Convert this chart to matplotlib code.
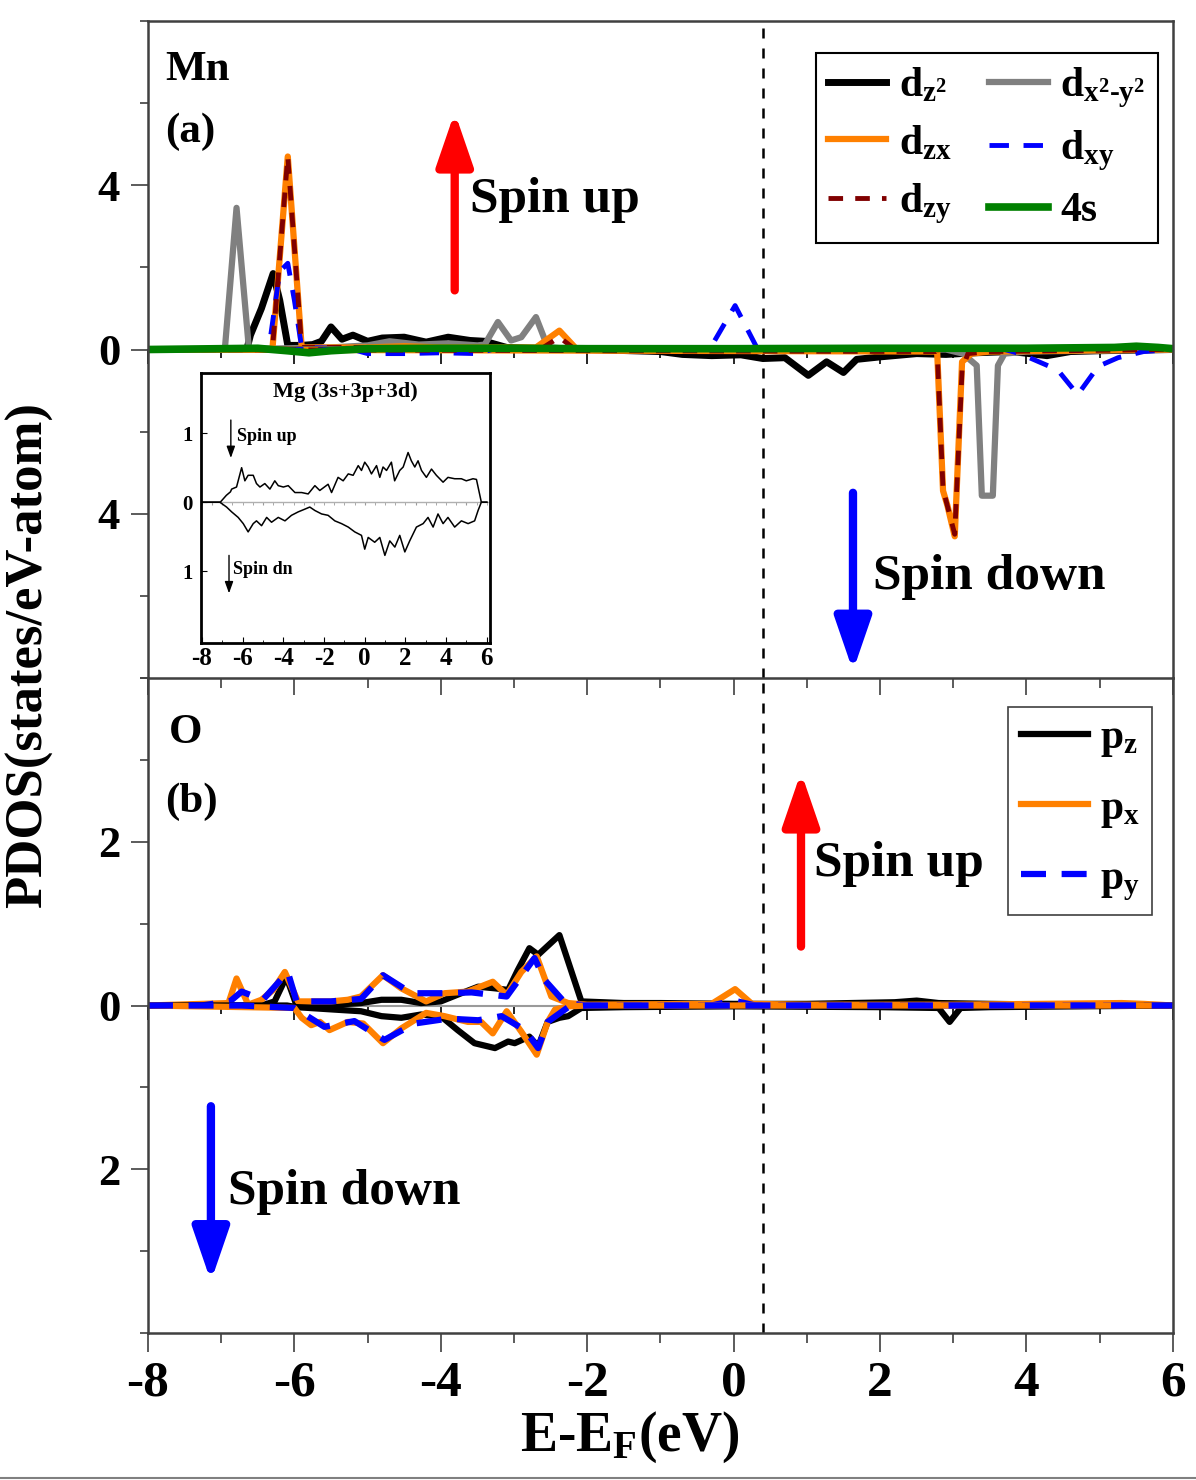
import numpy as np
import matplotlib
matplotlib.use('Agg')
import matplotlib.pyplot as plt
from matplotlib.ticker import FuncFormatter, MultipleLocator
from matplotlib.lines import Line2D

plt.rcParams['font.family'] = ['Liberation Serif', 'DejaVu Serif']
plt.rcParams['font.weight'] = 'bold'
plt.rcParams['axes.labelweight'] = 'bold'
plt.rcParams['axes.unicode_minus'] = False
plt.rcParams['mathtext.fontset'] = 'custom'
plt.rcParams['mathtext.rm'] = 'Liberation Serif:bold'
plt.rcParams['mathtext.it'] = 'Liberation Serif:bold'
plt.rcParams['mathtext.bf'] = 'Liberation Serif:bold'
plt.rcParams['mathtext.default'] = 'bf'

# ---- Mn d / 4s PDOS (spin down stored as positive magnitudes) ----
dz2_up_e = [-8, -6.65, -6.6, -6.45, -6.29, -6.2, -6.09, -5.9, -5.75, -5.63, -5.5, -5.35, -5.2,
            -5.0, -4.8, -4.5, -4.2, -3.9, -3.6, -3.4, -3.1, -2.8, -2.5, -2.0, 6]
dz2_up = [0, 0, 0.35, 1.0, 1.85, 1.2, 0.1, 0.1, 0.12, 0.2, 0.55, 0.25, 0.35,
          0.2, 0.28, 0.3, 0.18, 0.3, 0.22, 0.2, 0.05, 0.03, 0.02, 0.02, 0]
dz2_dn_e = [-8, -2, -1, -0.7, -0.3, 0.1, 0.4, 0.7, 1.02, 1.27, 1.5, 1.68, 2.0, 2.5, 2.9,
            3.3, 3.8, 4.28, 4.6, 5.0, 6]
dz2_dn = [0, 0, 0.05, 0.12, 0.15, 0.13, 0.22, 0.2, 0.63, 0.3, 0.56, 0.24, 0.18, 0.1, 0.12,
          0.08, 0.05, 0.15, 0.05, 0.03, 0]

dx2y2_up_e = [-8, -6.95, -6.79, -6.62, -6.4, -5.5, -5.0, -4.7, -4.3, -3.9, -3.5, -3.4,
              -3.22, -3.04, -2.9, -2.7, -2.54, -2.3, 6]
dx2y2_up = [0, 0, 3.45, 0, 0.02, 0.05, 0.1, 0.2, 0.12, 0.15, 0.1, 0.12,
            0.67, 0.22, 0.3, 0.79, 0.06, 0.02, 0]
dx2y2_dn_e = [-8, 2.9, 3.13, 3.32, 3.39, 3.54, 3.61, 3.7, 4.0, 6]
dx2y2_dn = [0, 0, 0.1, 0.39, 3.56, 3.56, 0.39, 0.1, 0.05, 0]

dzx_up_e = [-8, -6.3, -6.09, -5.9, -5.7, -5.0, -4.5, -4.0, -3.5, -3.0, -2.7, -2.38, -2.15, -2.0, 6]
dzx_up = [0, 0, 4.7, 0.05, 0.05, 0.05, 0.08, 0.05, 0.05, 0.05, 0.05, 0.46, 0.02, 0, 0]
dzx_dn_e = [-8, 2.78, 2.86, 2.92, 3.02, 3.12, 3.25, 3.5, 6]
dzx_dn = [0, 0.05, 3.44, 3.8, 4.55, 0.3, 0.1, 0.05, 0]

dzy_up_e = [-8, -6.3, -6.09, -5.9, -5.0, -4.0, -3.0, -2.6, -2.38, -2.2, -2.0, 6]
dzy_up = [0, 0, 4.7, 0.05, 0.05, 0.05, 0.05, 0.05, 0.3, 0.05, 0, 0]
dzy_dn_e = [-8, 2.78, 2.86, 3.02, 3.12, 3.2, 3.5, 6]
dzy_dn = [0, 0.05, 3.4, 4.5, 0.5, 0.1, 0.05, 0]

dxy_up_e = [-8, -6.35, -6.2, -6.09, -6.0, -5.9, -5.0, -1.0, -0.33, 0.02, 0.33, 1.0, 6]
dxy_up = [0, 0, 1.9, 2.1, 1.2, 0.05, 0.02, 0, 0, 1.07, 0, 0, 0]
dxy_dn_e = [-8, -5.2, -5.0, -4.5, -4.0, -3.5, -3.3, 3.7, 3.91, 4.3, 4.45, 4.7, 4.98, 5.25, 5.6, 6]
dxy_dn = [0, 0, 0.1, 0.1, 0.08, 0.1, 0, 0, 0.1, 0.4, 0.55, 1.1, 0.41, 0.2, 0.05, 0]

s4_e = [-8, -7, -6.5, -6.1, -5.8, -5.5, -5.0, -4.0, -3.0, -2.0, 0, 2, 4, 5.2, 5.5, 5.8, 6]
s4 = [0, 0.02, 0.03, -0.03, -0.08, -0.03, 0.02, 0.03, 0.03, 0.02, 0.02, 0.03, 0.03, 0.05, 0.08, 0.05, 0.02]

# ---- O p PDOS ----
pz_up_e = [-8, -6.45, -6.27, -6.11, -5.97, -5.45, -5.09, -4.81, -4.54, -4.27, -4.0, -3.72, -3.49,
           -3.26, -3.08, -2.95, -2.79, -2.67, -2.38, -2.08, -1.5, -1.0, 0, 1, 2.2, 2.5, 2.8, 3.5, 4.5, 6]
pz_up = [0, 0, 0.05, 0.35, 0, 0.01, 0.03, 0.07, 0.07, 0.03, 0.05, 0.15, 0.23,
         0.21, 0.19, 0.43, 0.7, 0.62, 0.86, 0.05, 0.03, 0.03, 0.02, 0.02, 0.04, 0.06, 0.03, 0.02, 0.01, 0]
pz_dn_e = [-8, -6.1, -5.97, -5.45, -5.09, -4.81, -4.54, -4.27, -4.0, -3.77, -3.54, -3.26, -3.08,
           -2.99, -2.79, -2.67, -2.54, -2.38, -2.26, -2.08, -1.5, 0, 2.0, 2.8, 2.95, 3.1, 3.5, 6]
pz_dn = [0, 0, 0.02, 0.05, 0.07, 0.13, 0.15, 0.11, 0.13, 0.3, 0.46, 0.52, 0.44,
         0.46, 0.38, 0.5, 0.2, 0.15, 0.13, 0.03, 0.02, 0.01, 0.02, 0.03, 0.2, 0.03, 0.02, 0]

px_up_e = [-8, -6.9, -6.79, -6.63, -6.45, -6.29, -6.13, -5.95, -5.5, -5.27, -5.09, -4.79, -4.54,
           -4.2, -3.95, -3.63, -3.29, -3.1, -2.9, -2.69, -2.49, -2.26, -2.0, -0.3, 0.02, 0.25, 1, 3,
           5.3, 5.6, 6]
px_up = [0, 0.03, 0.33, 0.01, 0.07, 0.19, 0.41, 0.05, 0.05, 0.07, 0.11, 0.37, 0.21,
         0.05, 0.15, 0.17, 0.29, 0.13, 0.41, 0.6, 0.11, 0.03, 0.01, 0.02, 0.2, 0.02, 0.01, 0.01,
         0.03, 0.02, 0]
px_dn_e = [-8, -6.0, -5.9, -5.77, -5.65, -5.52, -5.27, -5.06, -4.79, -4.54, -4.2, -3.95, -3.63,
           -3.45, -3.29, -3.1, -2.9, -2.69, -2.54, -2.44, -2.26, -2.0, 6]
px_dn = [0, 0.03, 0.15, 0.24, 0.2, 0.3, 0.2, 0.22, 0.46, 0.28, 0.09, 0.13, 0.2,
         0.2, 0.34, 0.07, 0.32, 0.6, 0.2, 0.05, 0.01, 0, 0]

py_up_e = [-8, -7.27, -6.88, -6.72, -6.43, -6.09, -5.97, -5.5, -5.09, -4.79, -4.4, -3.95, -3.58,
           -3.1, -2.72, -2.58, -2.3, -2.0, -0.3, 0.0, 0.3, 6]
py_up = [0, 0, 0.05, 0.17, 0.07, 0.41, 0.05, 0.05, 0.08, 0.37, 0.15, 0.15, 0.16,
         0.11, 0.58, 0.31, 0.03, 0, 0, 0.06, 0, 0]
py_dn_e = [-8, -6.72, -6.0, -5.59, -5.18, -4.77, -4.36, -3.9, -3.49, -3.17, -2.85, -2.67, -2.54,
           -2.26, -2.0, 6]
py_dn = [0, 0, 0.03, 0.26, 0.19, 0.42, 0.22, 0.16, 0.18, 0.13, 0.3, 0.52, 0.2, 0.02, 0, 0]

# ---- Mg (3s+3p+3d) inset ----
mg_up_e = [-8, -7.1, -6.8, -6.6, -6.54, -6.3, -6.05, -5.89, -5.73, -5.48, -5.32, -5.15, -4.91,
           -4.66, -4.42, -4.25, -4.0, -3.76, -3.43, -3.1, -2.78, -2.45, -2.21, -1.8, -1.63, -1.31,
           -1.06, -0.81, -0.57, -0.32, -0.16, 0.0, 0.17, 0.33, 0.58, 0.74, 0.9, 1.07, 1.31, 1.47,
           1.72, 1.89, 2.13, 2.29, 2.46, 2.62, 2.79, 3.03, 3.28, 3.52, 3.85, 4.09, 4.42, 4.75,
           4.99, 5.32, 5.49, 5.73, 6]
mg_up = [0, 0, 0.1, 0.15, 0.19, 0.22, 0.5, 0.31, 0.39, 0.39, 0.27, 0.22, 0.27,
         0.19, 0.31, 0.24, 0.22, 0.24, 0.14, 0.14, 0.12, 0.24, 0.17, 0.26, 0.14, 0.36,
         0.31, 0.41, 0.39, 0.53, 0.46, 0.58, 0.51, 0.41, 0.53, 0.36, 0.51, 0.46, 0.58, 0.31,
         0.46, 0.51, 0.72, 0.6, 0.51, 0.6, 0.46, 0.36, 0.48, 0.39, 0.29, 0.36, 0.34, 0.34,
         0.31, 0.34, 0.33, 0, 0]
mg_dn_e = [-8, -7.12, -6.79, -6.54, -6.22, -5.97, -5.73, -5.48, -5.32, -5.07, -4.82, -4.58, -4.25,
           -3.92, -3.6, -3.27, -2.94, -2.7, -2.45, -2.12, -1.8, -1.47, -1.14, -0.81, -0.49, -0.16,
           0.0, 0.17, 0.49, 0.74, 0.99, 1.23, 1.48, 1.72, 1.97, 2.21, 2.54, 2.87, 3.11, 3.36, 3.6,
           3.85, 4.09, 4.42, 4.75, 5.08, 5.4, 5.57, 5.73, 6]
mg_dn = [0, 0, 0.07, 0.14, 0.22, 0.31, 0.43, 0.31, 0.27, 0.34, 0.22, 0.29, 0.22,
         0.27, 0.19, 0.14, 0.1, 0.07, 0.12, 0.17, 0.19, 0.27, 0.31, 0.36, 0.43, 0.48,
         0.68, 0.51, 0.58, 0.51, 0.77, 0.56, 0.65, 0.48, 0.72, 0.56, 0.36, 0.31, 0.22, 0.36, 0.17,
         0.31, 0.22, 0.36, 0.27, 0.31, 0.27, 0.12, 0, 0]

e_fermi_line = 0.4

orange = '#ff8000'
darkred = '#800000'
frame = '#404040'

fig = plt.figure(figsize=(11.96, 14.8), dpi=100)
ax1 = fig.add_axes([0.1237, 0.5419, 0.857, 0.4439])
ax2 = fig.add_axes([0.1237, 0.0993, 0.857, 0.4426])

abs_fmt = FuncFormatter(lambda v, p: f'{abs(v):g}')


def neg(v):
    return [-x for x in v]


# top panel: Mn
ax1.plot(dz2_up_e, dz2_up, color='k', lw=5, label=r'$d_{z^2}$')
ax1.plot(dx2y2_up_e, dx2y2_up, color='#808080', lw=4.5, label=r'$d_{x^2\text{-}y^2}$')
ax1.plot(dzx_up_e, dzx_up, color=orange, lw=4.5, label=r'$d_{zx}$')
ax1.plot(dxy_up_e, dxy_up, color='b', lw=3.5, ls=(0, (4, 3)), label=r'$d_{xy}$')
ax1.plot(dzy_up_e, dzy_up, color=darkred, lw=3.5, ls=(0, (3, 2.5)), label=r'$d_{zy}$')
ax1.plot(dz2_dn_e, neg(dz2_dn), color='k', lw=5)
ax1.plot(dx2y2_dn_e, neg(dx2y2_dn), color='#808080', lw=4.5)
ax1.plot(dzx_dn_e, neg(dzx_dn), color=orange, lw=4.5)
ax1.plot(dxy_dn_e, neg(dxy_dn), color='b', lw=3.5, ls=(0, (4, 3)))
ax1.plot(dzy_dn_e, neg(dzy_dn), color=darkred, lw=3.5, ls=(0, (3, 2.5)))
ax1.plot(s4_e, s4, color='#008000', lw=5.5, label='4s')

ax1.set_xlim(-8, 6)
ax1.set_ylim(-8, 8)
ax1.yaxis.set_minor_locator(MultipleLocator(2))
ax1.yaxis.set_major_formatter(abs_fmt)
ax1.set_yticks([-4, 0, 4])
ax1.set_xticks([])
ax1.spines['bottom'].set_visible(False)

h, l = ax1.get_legend_handles_labels()
order = [0, 2, 4, 1, 3, 5]
leg1 = ax1.legend([h[i] for i in order], [l[i] for i in order], ncol=2, loc='upper right',
                  bbox_to_anchor=(0.985, 0.951), borderaxespad=0, fontsize=30,
                  handlelength=1.4, handletextpad=0.3, columnspacing=0.9, labelspacing=0.45,
                  borderpad=0.3, fancybox=False, edgecolor='k', framealpha=1)
leg1.get_frame().set_linewidth(1.5)

ax1.text(0.017, 0.955, 'Mn', transform=ax1.transAxes, fontsize=31, va='top')
ax1.text(0.017, 0.86, '(a)', transform=ax1.transAxes, fontsize=31, va='top')

# bottom panel: O
ax2.plot(pz_up_e, pz_up, color='k', lw=4.5, label=r'$p_z$')
ax2.plot(px_up_e, px_up, color=orange, lw=4.5, label=r'$p_x$')
ax2.plot(py_up_e, py_up, color='b', lw=4.5, ls=(0, (4, 2.5)), label=r'$p_y$')
ax2.plot(pz_dn_e, neg(pz_dn), color='k', lw=4.5)
ax2.plot(px_dn_e, neg(px_dn), color=orange, lw=4.5)
ax2.plot(py_dn_e, neg(py_dn), color='b', lw=4.5, ls=(0, (4, 2.5)))

ax2.set_xlim(-8, 6)
ax2.set_ylim(-4, 4)
ax2.set_yticks([-2, 0, 2])
ax2.yaxis.set_minor_locator(MultipleLocator(1))
ax2.yaxis.set_major_formatter(abs_fmt)
ax2.xaxis.set_major_locator(MultipleLocator(2))
ax2.xaxis.set_minor_locator(MultipleLocator(1))
leg2 = ax2.legend(loc='upper right', bbox_to_anchor=(0.98, 0.956), borderaxespad=0,
                  fontsize=30, handlelength=1.6, handletextpad=0.3, labelspacing=0.72,
                  borderpad=0.3, fancybox=False, edgecolor=frame, framealpha=1)
leg2.get_frame().set_linewidth(1.2)
ax2.text(0.02, 0.945, 'O', transform=ax2.transAxes, fontsize=31, va='top')
ax2.text(0.017, 0.84, '(b)', transform=ax2.transAxes, fontsize=31, va='top')
ax2.set_xlabel(r'E-E$_F$(eV)', fontsize=40)
ax2.xaxis.set_label_coords(0.47, -0.117)

for ax in (ax1, ax2):
    ax.axvline(e_fermi_line, color='k', lw=1.8, ls=(0, (4, 4)), zorder=1)
    for s in ax.spines.values():
        s.set_color(frame)
        s.set_linewidth(1.8)
    ax.tick_params(axis='y', which='major', direction='out', length=12, width=1.2,
                   labelsize=32, pad=8, colors=frame, labelcolor='k')
    ax.tick_params(axis='y', which='minor', direction='out', length=6, width=1.2, colors=frame)

ax2.tick_params(axis='x', which='major', direction='out', length=14, width=1.2,
                labelsize=37, pad=6, colors=frame, labelcolor='k')
ax2.tick_params(axis='x', which='minor', direction='out', length=7, width=1.2, colors=frame)

# inward ticks along the panel boundary
top_sec = ax2.secondary_xaxis('top')
top_sec.xaxis.set_major_locator(MultipleLocator(2))
top_sec.xaxis.set_minor_locator(MultipleLocator(1))
top_sec.tick_params(which='major', direction='in', length=12, width=1.2, labeltop=False, colors=frame)
top_sec.tick_params(which='minor', direction='in', length=7, width=1.2, colors=frame)

# zero lines with ticks
for ax, col in ((ax1, 'k'), (ax2, '#9a9a9a')):
    zsec = ax.secondary_xaxis(0.5)
    zsec.xaxis.set_major_locator(MultipleLocator(2))
    zsec.xaxis.set_minor_locator(MultipleLocator(1))
    zsec.tick_params(which='major', direction='in', length=10, width=1.2,
                     labeltop=False, labelbottom=False, colors='k')
    zsec.tick_params(which='minor', direction='in', length=6, width=1.2, colors='k')
    for s in zsec.spines.values():
        s.set_color(col)
        s.set_linewidth(1.5)

# arrows and spin labels
arrow_style = '-|>,head_length=1.6,head_width=0.55'


def spin_arrow(ax, x, y0, y1, color):
    ax.annotate('', xy=(x, y1), xytext=(x, y0),
                arrowprops=dict(arrowstyle=arrow_style, color=color, lw=6, shrinkA=0,
                                shrinkB=0, mutation_scale=20, capstyle='round'))


spin_arrow(ax1, -3.81, 1.44, 5.78, 'red')
spin_arrow(ax1, 1.63, -3.49, -7.83, 'blue')
spin_arrow(ax2, 0.92, 0.72, 2.85, 'red')
spin_arrow(ax2, -7.14, -1.23, -3.37, 'blue')
ax1.text(-3.6, 3.64, 'Spin up', fontsize=37, va='center')
ax1.text(1.9, -5.55, 'Spin down', fontsize=37, va='center')
ax2.text(1.1, 1.73, 'Spin up', fontsize=37, va='center')
ax2.text(-6.9, -2.28, 'Spin down', fontsize=37, va='center')

# inset: Mg
axin = fig.add_axes([0.168, 0.5655, 0.2416, 0.1824])
axin.plot(mg_up_e, mg_up, color='k', lw=1.1)
axin.plot(mg_dn_e, neg(mg_dn), color='k', lw=1.1)
axin.set_xlim(-8.05, 6.15)
axin.set_ylim(-2.04, 1.87)
axin.set_yticks([-1, 0, 1])
axin.yaxis.set_major_formatter(abs_fmt)
axin.xaxis.set_major_locator(MultipleLocator(2))
axin.xaxis.set_minor_locator(MultipleLocator(1))
axin.tick_params(axis='x', which='major', direction='in', length=4, labelsize=18, pad=3)
axin.tick_params(axis='x', which='minor', direction='in', length=2)
axin.tick_params(axis='y', which='major', direction='in', length=4, labelsize=15, pad=6)
for s in axin.spines.values():
    s.set_linewidth(2)
    s.set_color('k')
zin = axin.secondary_xaxis(0.5215)
zin.xaxis.set_minor_locator(MultipleLocator(0.5))
zin.tick_params(which='both', direction='in', length=2, labeltop=False, colors='#9a9a9a')
for s in zin.spines.values():
    s.set_color('#b0b0b0')
    s.set_linewidth(1)
axin.text(0.5, 0.93, 'Mg (3s+3p+3d)', transform=axin.transAxes, fontsize=16,
          ha='center', va='center')
small_arrow = dict(arrowstyle='-|>,head_length=0.5,head_width=0.18', color='k', lw=1,
                   shrinkA=0, shrinkB=0, mutation_scale=14)
axin.annotate('', xy=(-6.58, 0.64), xytext=(-6.58, 1.19), arrowprops=small_arrow)
axin.annotate('', xy=(-6.67, -1.32), xytext=(-6.67, -0.77), arrowprops=small_arrow)
axin.text(-6.3, 0.95, 'Spin up', fontsize=13, va='center')
axin.text(-6.45, -0.98, 'Spin dn', fontsize=13, va='center')

fig.text(0.024, 1 - 655 / 1480, 'PDOS(states/eV-atom)', rotation=90, fontsize=38,
         ha='center', va='center')
fig.add_artist(Line2D([0, 1], [0.0015, 0.0015], color='#808080', lw=1.5,
                      transform=fig.transFigure))

fig.savefig('out.png', dpi=100)
